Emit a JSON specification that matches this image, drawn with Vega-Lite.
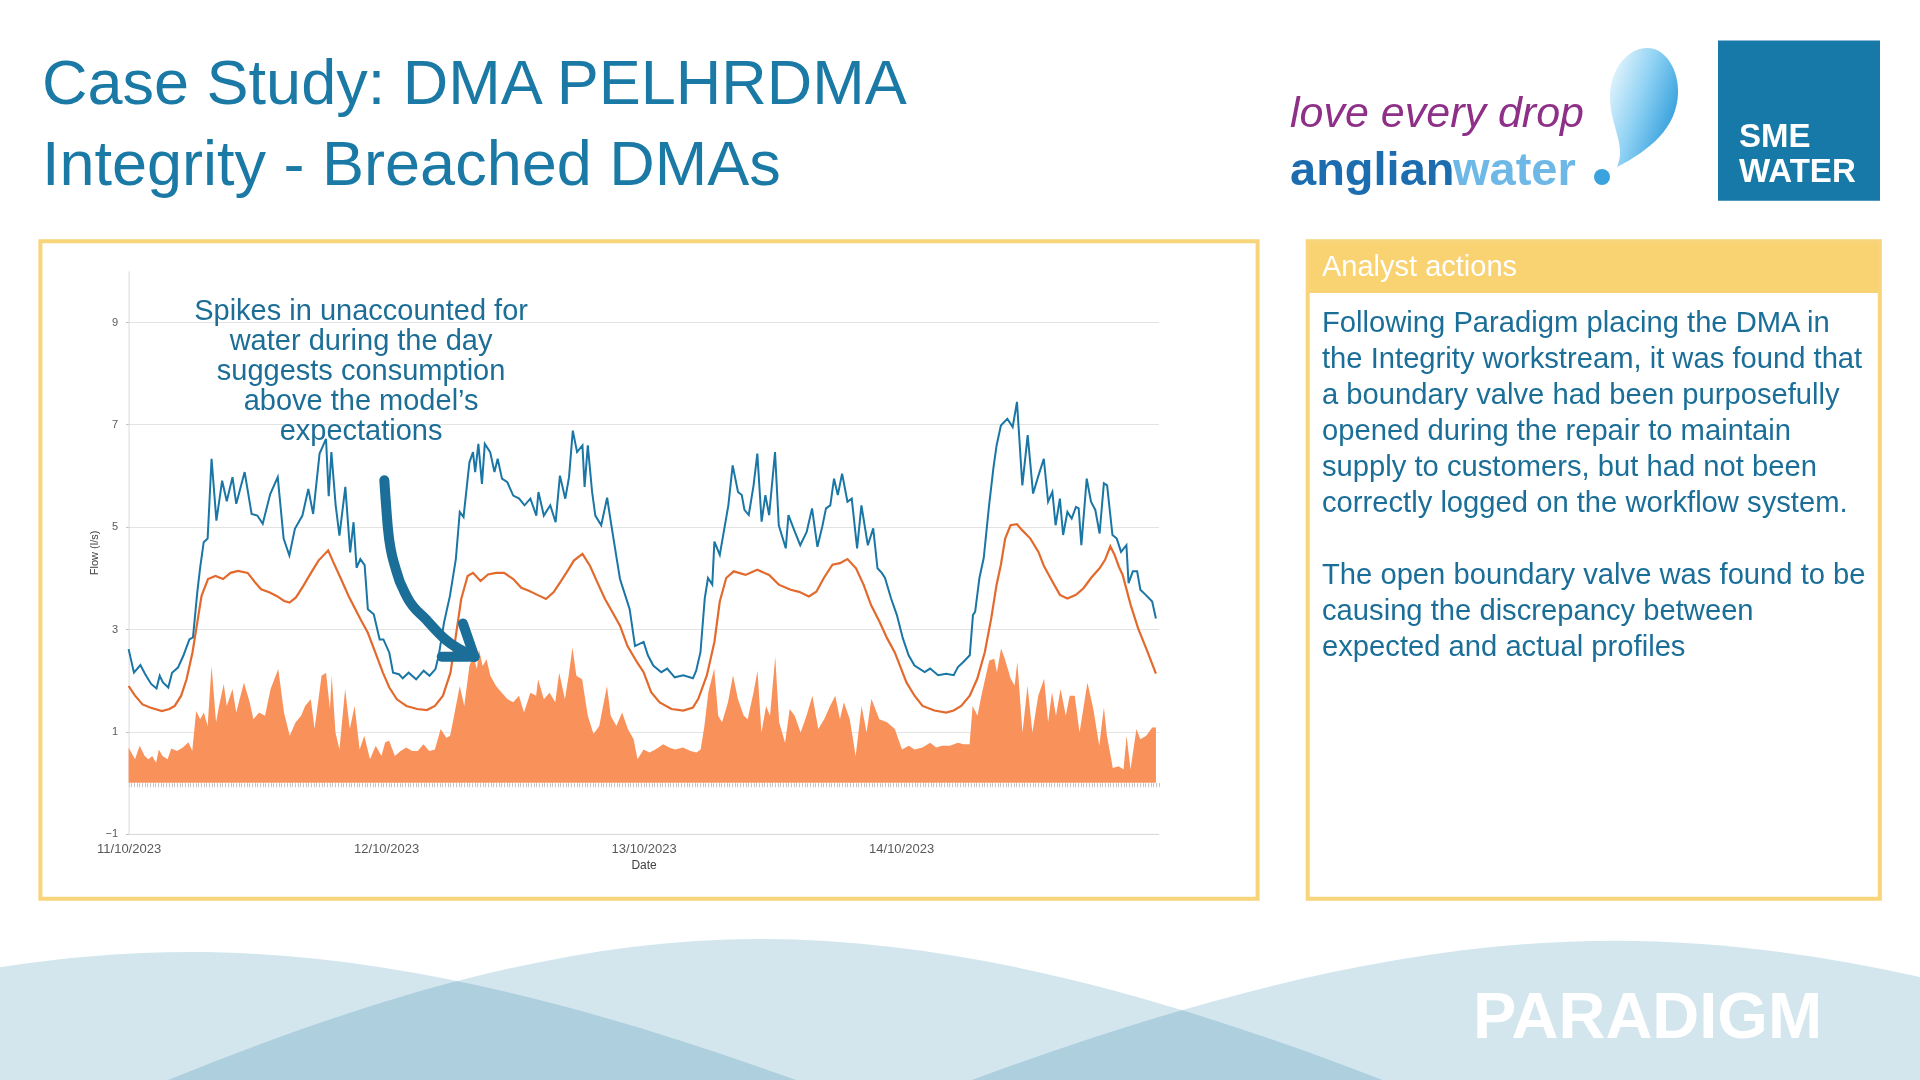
{
  "$schema": "https://vega.github.io/schema/vega-lite/v6.json",
  "width": 1920,
  "height": 1080,
  "autosize": {"type": "none"},
  "padding": 0,
  "background": "#FFFFFF",
  "config": {"view": {"stroke": null}},
  "data": {"values": [{"item": "slide"}]},
  "resolve": {"axis": {"x": "independent"}},
  "layer": [
    {
      "mark": {"type": "point", "shape": "M -6.06 1.28 C -4.04 0.555 -2.02 0 0 0 C 2.02 0 4.04 0.555 6.06 1.28 L 6.06 1.6 L -6.06 1.6 Z", "size": 40000, "filled": true, "fill": "#D3E6EE", "opacity": 1, "strokeWidth": 0, "blend": "multiply"},
      "encoding": {"x": {"value": 190}, "y": {"value": 952}}
    },
    {
      "mark": {"type": "point", "shape": "M -5.91 1.41 C -3.94 0.611 -1.97 0 0 0 C 2.078 0 4.157 0.611 6.235 1.41 L 6.235 1.6 L -5.91 1.6 Z", "size": 40000, "filled": true, "fill": "#D3E6EE", "opacity": 1, "strokeWidth": 0, "blend": "multiply"},
      "encoding": {"x": {"value": 759}, "y": {"value": 939}}
    },
    {
      "mark": {"type": "point", "shape": "M -6.43 1.393 C -4.287 0.604 -2.143 0 0 0 C 2.143 0 4.287 0.604 6.43 1.393 L 6.43 1.6 L -6.43 1.6 Z", "size": 40000, "filled": true, "fill": "#D3E6EE", "opacity": 1, "strokeWidth": 0, "blend": "multiply"},
      "encoding": {"x": {"value": 1615}, "y": {"value": 940.7}}
    },
    {
      "mark": {"type": "text", "text": "PARADIGM", "font": "Liberation Sans", "fontWeight": "bold", "fontSize": 65, "color": "#FFFFFF", "align": "left", "baseline": "alphabetic"},
      "encoding": {"x": {"value": 1473}, "y": {"value": 1038}}
    },
    {
      "mark": {"type": "rect", "fillOpacity": 0, "stroke": "#F8D47A", "strokeWidth": 4},
      "encoding": {"x": {"value": 40.4}, "x2": {"value": 1257.6}, "y": {"value": 241.2}, "y2": {"value": 898.8}}
    },
    {
      "mark": {"type": "rect", "fill": "#F9D272", "strokeWidth": 0},
      "encoding": {"x": {"value": 1307.7}, "x2": {"value": 1879.8}, "y": {"value": 241.2}, "y2": {"value": 293}}
    },
    {
      "mark": {"type": "rect", "fillOpacity": 0, "stroke": "#F8D47A", "strokeWidth": 4},
      "encoding": {"x": {"value": 1307.7}, "x2": {"value": 1879.8}, "y": {"value": 241.2}, "y2": {"value": 898.8}}
    },
    {
      "data": {"values": [
        {"t":"2023-10-11T00:00","v":0.69},{"t":"2023-10-11T00:15","v":0.59},{"t":"2023-10-11T00:36","v":0.46},{"t":"2023-10-11T01:02","v":0.72},{"t":"2023-10-11T01:30","v":0.52},{"t":"2023-10-11T01:51","v":0.46},{"t":"2023-10-11T02:12","v":0.52},{"t":"2023-10-11T02:34","v":0.39},{"t":"2023-10-11T02:49","v":0.65},{"t":"2023-10-11T03:10","v":0.52},{"t":"2023-10-11T03:38","v":0.46},{"t":"2023-10-11T03:59","v":0.67},{"t":"2023-10-11T04:31","v":0.62},{"t":"2023-10-11T05:03","v":0.69},{"t":"2023-10-11T05:35","v":0.79},{"t":"2023-10-11T05:56","v":0.62},
        {"t":"2023-10-11T06:18","v":1.40},{"t":"2023-10-11T06:40","v":1.24},{"t":"2023-10-11T07:01","v":1.37},{"t":"2023-10-11T07:22","v":1.11},{"t":"2023-10-11T07:44","v":2.28},{"t":"2023-10-11T08:09","v":1.18},{"t":"2023-10-11T08:26","v":1.50},{"t":"2023-10-11T08:52","v":1.93},{"t":"2023-10-11T09:09","v":1.50},{"t":"2023-10-11T09:41","v":1.83},{"t":"2023-10-11T10:02","v":1.37},{"t":"2023-10-11T10:45","v":1.96},{"t":"2023-10-11T11:17","v":1.57},{"t":"2023-10-11T11:38","v":1.24},{"t":"2023-10-11T12:10","v":1.37},{"t":"2023-10-11T12:43","v":1.31},{"t":"2023-10-11T13:14","v":1.83},{"t":"2023-10-11T13:57","v":2.22},{"t":"2023-10-11T14:29","v":1.37},{"t":"2023-10-11T15:01","v":0.92},{"t":"2023-10-11T15:34","v":1.18},{"t":"2023-10-11T16:05","v":1.31},{"t":"2023-10-11T16:27","v":1.50},{"t":"2023-10-11T16:59","v":1.63},{"t":"2023-10-11T17:20","v":1.05},{"t":"2023-10-11T17:59","v":2.09},{"t":"2023-10-11T18:24","v":2.15},{"t":"2023-10-11T18:46","v":1.44},{"t":"2023-10-11T18:56","v":2.09},{"t":"2023-10-11T19:17","v":0.98},{"t":"2023-10-11T19:39","v":0.65},{"t":"2023-10-11T20:11","v":1.83},{"t":"2023-10-11T20:37","v":1.05},{"t":"2023-10-11T21:04","v":1.50},{"t":"2023-10-11T21:32","v":0.65},{"t":"2023-10-11T21:58","v":0.92},{"t":"2023-10-11T22:30","v":0.46},{"t":"2023-10-11T23:02","v":0.72},{"t":"2023-10-11T23:34","v":0.52},{"t":"2023-10-11T23:55","v":0.79},
        {"t":"2023-10-12T00:17","v":0.82},{"t":"2023-10-12T00:49","v":0.52},{"t":"2023-10-12T01:21","v":0.62},{"t":"2023-10-12T01:53","v":0.69},{"t":"2023-10-12T02:25","v":0.62},{"t":"2023-10-12T02:57","v":0.62},{"t":"2023-10-12T03:29","v":0.75},{"t":"2023-10-12T04:01","v":0.62},{"t":"2023-10-12T04:33","v":0.65},{"t":"2023-10-12T05:05","v":1.05},{"t":"2023-10-12T05:37","v":0.88},{"t":"2023-10-12T05:58","v":0.92},{"t":"2023-10-12T06:20","v":1.31},{"t":"2023-10-12T06:52","v":1.89},{"t":"2023-10-12T07:17","v":1.50},{"t":"2023-10-12T07:46","v":2.28},{"t":"2023-10-12T08:07","v":2.48},{"t":"2023-10-12T08:28","v":2.22},{"t":"2023-10-12T08:39","v":2.61},{"t":"2023-10-12T09:00","v":2.28},{"t":"2023-10-12T09:22","v":2.41},{"t":"2023-10-12T09:43","v":2.09},{"t":"2023-10-12T10:15","v":1.89},{"t":"2023-10-12T10:47","v":1.76},{"t":"2023-10-12T11:19","v":1.63},{"t":"2023-10-12T11:51","v":1.57},{"t":"2023-10-12T12:23","v":1.70},{"t":"2023-10-12T12:51","v":1.37},{"t":"2023-10-12T13:27","v":1.76},{"t":"2023-10-12T13:59","v":1.70},{"t":"2023-10-12T14:10","v":2.02},{"t":"2023-10-12T14:42","v":1.63},{"t":"2023-10-12T15:14","v":1.76},{"t":"2023-10-12T15:46","v":1.57},{"t":"2023-10-12T16:08","v":2.15},{"t":"2023-10-12T16:40","v":1.63},{"t":"2023-10-12T17:01","v":2.09},{"t":"2023-10-12T17:22","v":2.64},{"t":"2023-10-12T17:44","v":2.09},{"t":"2023-10-12T18:16","v":2.02},{"t":"2023-10-12T18:48","v":1.31},{"t":"2023-10-12T19:20","v":0.95},{"t":"2023-10-12T19:52","v":1.11},{"t":"2023-10-12T20:35","v":1.89},{"t":"2023-10-12T20:56","v":1.31},{"t":"2023-10-12T21:28","v":1.11},{"t":"2023-10-12T22:00","v":1.37},{"t":"2023-10-12T22:32","v":1.05},{"t":"2023-10-12T23:04","v":0.85},{"t":"2023-10-12T23:26","v":0.46},
        {"t":"2023-10-13T00:00","v":0.65},{"t":"2023-10-13T00:33","v":0.59},{"t":"2023-10-13T01:06","v":0.65},{"t":"2023-10-13T01:50","v":0.75},{"t":"2023-10-13T02:23","v":0.69},{"t":"2023-10-13T02:56","v":0.65},{"t":"2023-10-13T03:40","v":0.69},{"t":"2023-10-13T04:23","v":0.62},{"t":"2023-10-13T04:56","v":0.59},{"t":"2023-10-13T05:19","v":0.65},{"t":"2023-10-13T05:40","v":1.11},{"t":"2023-10-13T06:02","v":1.77},{"t":"2023-10-13T06:35","v":2.23},{"t":"2023-10-13T06:57","v":1.31},{"t":"2023-10-13T07:19","v":1.18},{"t":"2023-10-13T07:52","v":1.57},{"t":"2023-10-13T08:20","v":2.10},{"t":"2023-10-13T08:47","v":1.64},{"t":"2023-10-13T09:20","v":1.31},{"t":"2023-10-13T09:42","v":1.24},{"t":"2023-10-13T10:15","v":1.77},{"t":"2023-10-13T10:37","v":2.19},{"t":"2023-10-13T10:59","v":0.98},{"t":"2023-10-13T11:25","v":1.50},{"t":"2023-10-13T11:47","v":1.31},{"t":"2023-10-13T12:16","v":2.46},{"t":"2023-10-13T12:38","v":1.18},{"t":"2023-10-13T13:11","v":0.78},{"t":"2023-10-13T13:37","v":1.44},{"t":"2023-10-13T14:05","v":1.31},{"t":"2023-10-13T14:38","v":0.98},{"t":"2023-10-13T15:11","v":1.31},{"t":"2023-10-13T15:44","v":1.70},{"t":"2023-10-13T16:17","v":1.05},{"t":"2023-10-13T16:50","v":1.24},{"t":"2023-10-13T17:23","v":1.50},{"t":"2023-10-13T17:52","v":1.70},{"t":"2023-10-13T18:18","v":1.24},{"t":"2023-10-13T18:40","v":1.57},{"t":"2023-10-13T19:13","v":1.24},{"t":"2023-10-13T19:46","v":0.52},{"t":"2023-10-13T20:19","v":1.50},{"t":"2023-10-13T20:47","v":0.98},{"t":"2023-10-13T21:14","v":1.64},{"t":"2023-10-13T21:58","v":1.24},{"t":"2023-10-13T22:41","v":1.18},{"t":"2023-10-13T23:25","v":1.05},
        {"t":"2023-10-14T00:05","v":0.65},{"t":"2023-10-14T00:43","v":0.72},{"t":"2023-10-14T01:15","v":0.65},{"t":"2023-10-14T01:59","v":0.69},{"t":"2023-10-14T02:43","v":0.78},{"t":"2023-10-14T03:16","v":0.69},{"t":"2023-10-14T03:49","v":0.72},{"t":"2023-10-14T04:33","v":0.72},{"t":"2023-10-14T05:17","v":0.78},{"t":"2023-10-14T05:50","v":0.75},{"t":"2023-10-14T06:23","v":0.75},{"t":"2023-10-14T06:40","v":1.50},{"t":"2023-10-14T07:07","v":1.31},{"t":"2023-10-14T07:33","v":1.77},{"t":"2023-10-14T08:13","v":2.39},{"t":"2023-10-14T08:41","v":2.42},{"t":"2023-10-14T08:56","v":2.16},{"t":"2023-10-14T09:19","v":2.62},{"t":"2023-10-14T09:40","v":2.42},{"t":"2023-10-14T10:13","v":2.03},{"t":"2023-10-14T10:35","v":1.90},{"t":"2023-10-14T10:50","v":2.36},{"t":"2023-10-14T11:19","v":0.98},{"t":"2023-10-14T11:47","v":1.90},{"t":"2023-10-14T12:14","v":0.98},{"t":"2023-10-14T12:47","v":1.70},{"t":"2023-10-14T13:20","v":2.03},{"t":"2023-10-14T13:42","v":1.18},{"t":"2023-10-14T14:04","v":1.77},{"t":"2023-10-14T14:26","v":1.31},{"t":"2023-10-14T14:52","v":1.83},{"t":"2023-10-14T15:21","v":1.31},{"t":"2023-10-14T15:43","v":1.70},{"t":"2023-10-14T16:11","v":1.70},{"t":"2023-10-14T16:38","v":0.98},{"t":"2023-10-14T17:22","v":1.96},{"t":"2023-10-14T17:55","v":1.44},{"t":"2023-10-14T18:28","v":0.72},{"t":"2023-10-14T18:54","v":1.47},{"t":"2023-10-14T19:11","v":0.92},{"t":"2023-10-14T19:44","v":0.29},{"t":"2023-10-14T20:17","v":0.32},{"t":"2023-10-14T20:44","v":0.26},{"t":"2023-10-14T21:01","v":0.92},{"t":"2023-10-14T21:23","v":0.26},{"t":"2023-10-14T21:56","v":1.05},{"t":"2023-10-14T22:18","v":0.85},{"t":"2023-10-14T22:51","v":0.92},{"t":"2023-10-14T23:24","v":1.08},{"t":"2023-10-14T23:45","v":1.08}
      ]},
      "mark": {"type": "area", "color": "#F9915A", "opacity": 1},
      "encoding": {
        "x": {"field": "t", "type": "temporal",
          "scale": {"domain": [{"year": 2023, "month": 10, "date": 11}, {"year": 2023, "month": 10, "date": 15}], "range": [128.6, 1158.6], "nice": false},
          "axis": {"orient": "bottom", "offset": -246.1, "values": [{"year": 2023, "month": 10, "date": 11}, {"year": 2023, "month": 10, "date": 12}, {"year": 2023, "month": 10, "date": 13}, {"year": 2023, "month": 10, "date": 14}], "format": "%d/%m/%Y", "grid": false, "ticks": false, "tickSize": 0, "domain": true, "domainColor": "#D9D9D9", "labelFont": "Liberation Sans", "labelFontSize": 13, "labelColor": "#595959", "labelPadding": 9, "labelFlush": false, "labelOverlap": false, "title": "Date", "titleFont": "Liberation Sans", "titleFontSize": 12, "titleFontWeight": "normal", "titleColor": "#404040", "titlePadding": 4}},
        "y": {"field": "v", "type": "quantitative",
          "scale": {"domain": [-1, 10], "range": [833.9, 270.9], "nice": false, "zero": false},
          "axis": {"orient": "left", "offset": -128.6, "values": [-1, 1, 3, 5, 7, 9], "format": "d", "grid": true, "gridColor": "#E3E3E3", "gridWidth": 1, "domain": true, "domainColor": "#D9D9D9", "ticks": true, "tickSize": 3, "tickColor": "#BFBFBF", "labelFont": "Liberation Sans", "labelFontSize": 11, "labelColor": "#595959", "labelPadding": 8, "title": "Flow (l/s)", "titleFont": "Liberation Sans", "titleFontSize": 11, "titleFontWeight": "normal", "titleColor": "#404040", "titlePadding": 6}},
        "y2": {"datum": 0}
      }
    },
    {
      "data": {"values": [
        {"t":"2023-10-11T00:00","v":1.89},{"t":"2023-10-11T00:36","v":1.70},{"t":"2023-10-11T01:18","v":1.53},{"t":"2023-10-11T02:00","v":1.47},{"t":"2023-10-11T03:06","v":1.40},{"t":"2023-10-11T03:48","v":1.44},{"t":"2023-10-11T04:18","v":1.50},{"t":"2023-10-11T04:54","v":1.70},{"t":"2023-10-11T05:24","v":2.02},{"t":"2023-10-11T05:57","v":2.54},{"t":"2023-10-11T06:24","v":3.13},{"t":"2023-10-11T06:48","v":3.65},{"t":"2023-10-11T07:24","v":3.98},{"t":"2023-10-11T08:06","v":4.04},{"t":"2023-10-11T08:48","v":3.98},{"t":"2023-10-11T09:30","v":4.10},{"t":"2023-10-11T10:12","v":4.14},{"t":"2023-10-11T11:06","v":4.10},{"t":"2023-10-11T11:48","v":3.91},{"t":"2023-10-11T12:21","v":3.78},{"t":"2023-10-11T13:06","v":3.72},{"t":"2023-10-11T13:48","v":3.65},{"t":"2023-10-11T14:30","v":3.55},{"t":"2023-10-11T15:00","v":3.52},{"t":"2023-10-11T15:36","v":3.62},{"t":"2023-10-11T16:18","v":3.85},{"t":"2023-10-11T17:00","v":4.10},{"t":"2023-10-11T17:42","v":4.34},{"t":"2023-10-11T18:36","v":4.54},{"t":"2023-10-11T19:06","v":4.30},{"t":"2023-10-11T19:48","v":3.98},{"t":"2023-10-11T20:30","v":3.65},{"t":"2023-10-11T21:36","v":3.20},{"t":"2023-10-11T22:18","v":2.93},{"t":"2023-10-11T23:00","v":2.54},{"t":"2023-10-11T23:42","v":2.15},
        {"t":"2023-10-12T00:18","v":1.86},{"t":"2023-10-12T01:00","v":1.63},{"t":"2023-10-12T01:54","v":1.50},{"t":"2023-10-12T02:54","v":1.44},{"t":"2023-10-12T03:48","v":1.42},{"t":"2023-10-12T04:33","v":1.50},{"t":"2023-10-12T05:18","v":1.70},{"t":"2023-10-12T06:00","v":2.15},{"t":"2023-10-12T06:30","v":2.87},{"t":"2023-10-12T07:00","v":3.59},{"t":"2023-10-12T07:36","v":4.04},{"t":"2023-10-12T08:06","v":4.10},{"t":"2023-10-12T08:48","v":3.94},{"t":"2023-10-12T09:30","v":4.07},{"t":"2023-10-12T10:15","v":4.10},{"t":"2023-10-12T11:00","v":4.10},{"t":"2023-10-12T11:51","v":3.98},{"t":"2023-10-12T12:36","v":3.81},{"t":"2023-10-12T13:18","v":3.75},{"t":"2023-10-12T14:00","v":3.68},{"t":"2023-10-12T14:54","v":3.59},{"t":"2023-10-12T15:36","v":3.72},{"t":"2023-10-12T16:18","v":3.94},{"t":"2023-10-12T17:00","v":4.17},{"t":"2023-10-12T17:30","v":4.34},{"t":"2023-10-12T18:18","v":4.47},{"t":"2023-10-12T19:00","v":4.24},{"t":"2023-10-12T19:42","v":3.91},{"t":"2023-10-12T20:24","v":3.59},{"t":"2023-10-12T21:06","v":3.33},{"t":"2023-10-12T21:48","v":3.07},{"t":"2023-10-12T22:30","v":2.67},{"t":"2023-10-12T23:24","v":2.35},
        {"t":"2023-10-13T00:00","v":2.16},{"t":"2023-10-13T00:42","v":1.77},{"t":"2023-10-13T01:30","v":1.57},{"t":"2023-10-13T02:36","v":1.44},{"t":"2023-10-13T03:42","v":1.41},{"t":"2023-10-13T04:36","v":1.47},{"t":"2023-10-13T05:06","v":1.64},{"t":"2023-10-13T05:54","v":2.10},{"t":"2023-10-13T06:36","v":2.75},{"t":"2023-10-13T07:06","v":3.54},{"t":"2023-10-13T07:42","v":4.00},{"t":"2023-10-13T08:24","v":4.13},{"t":"2023-10-13T09:30","v":4.06},{"t":"2023-10-13T10:36","v":4.16},{"t":"2023-10-13T11:42","v":4.06},{"t":"2023-10-13T12:36","v":3.87},{"t":"2023-10-13T13:42","v":3.77},{"t":"2023-10-13T14:30","v":3.73},{"t":"2023-10-13T15:24","v":3.64},{"t":"2023-10-13T16:06","v":3.73},{"t":"2023-10-13T16:48","v":4.00},{"t":"2023-10-13T17:36","v":4.26},{"t":"2023-10-13T18:18","v":4.29},{"t":"2023-10-13T19:00","v":4.37},{"t":"2023-10-13T19:48","v":4.19},{"t":"2023-10-13T20:30","v":3.87},{"t":"2023-10-13T21:12","v":3.47},{"t":"2023-10-13T22:00","v":3.14},{"t":"2023-10-13T22:42","v":2.82},{"t":"2023-10-13T23:24","v":2.55},
        {"t":"2023-10-14T00:00","v":2.23},{"t":"2023-10-14T00:30","v":1.96},{"t":"2023-10-14T01:15","v":1.70},{"t":"2023-10-14T02:00","v":1.50},{"t":"2023-10-14T03:06","v":1.41},{"t":"2023-10-14T04:12","v":1.37},{"t":"2023-10-14T04:54","v":1.41},{"t":"2023-10-14T05:36","v":1.50},{"t":"2023-10-14T06:24","v":1.70},{"t":"2023-10-14T07:06","v":2.03},{"t":"2023-10-14T07:48","v":2.55},{"t":"2023-10-14T08:24","v":3.21},{"t":"2023-10-14T08:54","v":3.87},{"t":"2023-10-14T09:18","v":4.26},{"t":"2023-10-14T09:42","v":4.77},{"t":"2023-10-14T10:12","v":5.03},{"t":"2023-10-14T10:48","v":5.05},{"t":"2023-10-14T11:18","v":4.93},{"t":"2023-10-14T12:03","v":4.77},{"t":"2023-10-14T12:48","v":4.51},{"t":"2023-10-14T13:18","v":4.24},{"t":"2023-10-14T14:06","v":3.93},{"t":"2023-10-14T14:48","v":3.67},{"t":"2023-10-14T15:30","v":3.60},{"t":"2023-10-14T16:18","v":3.67},{"t":"2023-10-14T17:00","v":3.80},{"t":"2023-10-14T17:42","v":4.00},{"t":"2023-10-14T18:30","v":4.19},{"t":"2023-10-14T19:00","v":4.35},{"t":"2023-10-14T19:30","v":4.62},{"t":"2023-10-14T19:54","v":4.45},{"t":"2023-10-14T20:18","v":4.22},{"t":"2023-10-14T20:39","v":4.06},{"t":"2023-10-14T21:24","v":3.47},{"t":"2023-10-14T22:06","v":3.01},{"t":"2023-10-14T22:51","v":2.62},{"t":"2023-10-14T23:45","v":2.13}
      ]},
      "mark": {"type": "line", "color": "#E36A2D", "strokeWidth": 2.2},
      "encoding": {
        "x": {"field": "t", "type": "temporal",
          "axis": {"orient": "bottom", "offset": -297.3, "tickCount": 384, "labels": false, "title": null, "grid": false, "domain": false, "ticks": true, "tickSize": 4, "tickColor": "#C4C4C4", "tickWidth": 1}},
        "y": {"field": "v", "type": "quantitative"}
      }
    },
    {
      "data": {"values": [
        {"t":"2023-10-11T00:00","v":2.61},{"t":"2023-10-11T00:30","v":2.15},{"t":"2023-10-11T01:06","v":2.30},{"t":"2023-10-11T01:33","v":2.12},{"t":"2023-10-11T02:06","v":1.93},{"t":"2023-10-11T02:36","v":1.84},{"t":"2023-10-11T02:54","v":2.09},{"t":"2023-10-11T03:12","v":1.96},{"t":"2023-10-11T03:42","v":1.86},{"t":"2023-10-11T04:03","v":2.15},{"t":"2023-10-11T04:36","v":2.25},{"t":"2023-10-11T05:06","v":2.48},{"t":"2023-10-11T05:40","v":2.80},{"t":"2023-10-11T06:00","v":2.84},{"t":"2023-10-11T06:24","v":3.72},{"t":"2023-10-11T06:40","v":4.20},{"t":"2023-10-11T07:00","v":4.70},{"t":"2023-10-11T07:22","v":4.77},{"t":"2023-10-11T07:44","v":6.33},{"t":"2023-10-11T08:11","v":5.12},{"t":"2023-10-11T08:43","v":5.90},{"t":"2023-10-11T09:09","v":5.50},{"t":"2023-10-11T09:41","v":5.97},{"t":"2023-10-11T10:02","v":5.45},{"t":"2023-10-11T10:49","v":6.07},{"t":"2023-10-11T11:28","v":5.25},{"t":"2023-10-11T12:00","v":5.22},{"t":"2023-10-11T12:30","v":5.06},{"t":"2023-10-11T13:12","v":5.64},{"t":"2023-10-11T13:54","v":5.97},{"t":"2023-10-11T14:27","v":4.77},{"t":"2023-10-11T14:59","v":4.44},{"t":"2023-10-11T15:30","v":4.96},{"t":"2023-10-11T16:12","v":5.22},{"t":"2023-10-11T16:45","v":5.74},{"t":"2023-10-11T17:12","v":5.25},{"t":"2023-10-11T17:48","v":6.43},{"t":"2023-10-11T18:24","v":6.72},{"t":"2023-10-11T18:39","v":5.60},{"t":"2023-10-11T18:54","v":6.46},{"t":"2023-10-11T19:18","v":5.42},{"t":"2023-10-11T19:39","v":4.83},{"t":"2023-10-11T20:12","v":5.78},{"t":"2023-10-11T20:39","v":4.50},{"t":"2023-10-11T20:58","v":5.09},{"t":"2023-10-11T21:15","v":4.20},{"t":"2023-10-11T21:36","v":4.37},{"t":"2023-10-11T22:00","v":4.25},{"t":"2023-10-11T22:18","v":3.39},{"t":"2023-10-11T22:51","v":3.29},{"t":"2023-10-11T23:24","v":2.80},{"t":"2023-10-11T23:45","v":2.80},
        {"t":"2023-10-12T00:18","v":2.54},{"t":"2023-10-12T00:39","v":2.15},{"t":"2023-10-12T01:12","v":2.12},{"t":"2023-10-12T01:33","v":2.04},{"t":"2023-10-12T02:06","v":2.15},{"t":"2023-10-12T02:48","v":2.02},{"t":"2023-10-12T03:30","v":2.19},{"t":"2023-10-12T04:03","v":2.09},{"t":"2023-10-12T04:36","v":2.22},{"t":"2023-10-12T04:54","v":2.48},{"t":"2023-10-12T05:24","v":3.13},{"t":"2023-10-12T05:57","v":3.65},{"t":"2023-10-12T06:30","v":4.37},{"t":"2023-10-12T06:52","v":5.29},{"t":"2023-10-12T07:13","v":5.19},{"t":"2023-10-12T07:46","v":6.26},{"t":"2023-10-12T08:06","v":6.46},{"t":"2023-10-12T08:18","v":6.07},{"t":"2023-10-12T08:36","v":6.62},{"t":"2023-10-12T08:56","v":5.84},{"t":"2023-10-12T09:12","v":6.62},{"t":"2023-10-12T09:42","v":6.46},{"t":"2023-10-12T10:06","v":6.07},{"t":"2023-10-12T10:24","v":6.33},{"t":"2023-10-12T10:48","v":5.94},{"t":"2023-10-12T11:18","v":5.87},{"t":"2023-10-12T11:51","v":5.61},{"t":"2023-10-12T12:24","v":5.55},{"t":"2023-10-12T12:54","v":5.42},{"t":"2023-10-12T13:27","v":5.55},{"t":"2023-10-12T14:00","v":5.22},{"t":"2023-10-12T14:12","v":5.68},{"t":"2023-10-12T14:42","v":5.22},{"t":"2023-10-12T15:18","v":5.42},{"t":"2023-10-12T15:48","v":5.09},{"t":"2023-10-12T16:12","v":6.00},{"t":"2023-10-12T16:42","v":5.55},{"t":"2023-10-12T17:03","v":5.97},{"t":"2023-10-12T17:24","v":6.88},{"t":"2023-10-12T17:48","v":6.46},{"t":"2023-10-12T18:18","v":6.59},{"t":"2023-10-12T18:30","v":5.78},{"t":"2023-10-12T18:48","v":6.59},{"t":"2023-10-12T19:12","v":5.68},{"t":"2023-10-12T19:30","v":5.22},{"t":"2023-10-12T20:03","v":5.03},{"t":"2023-10-12T20:36","v":5.57},{"t":"2023-10-12T20:57","v":5.09},{"t":"2023-10-12T21:30","v":4.37},{"t":"2023-10-12T21:48","v":3.98},{"t":"2023-10-12T22:12","v":3.72},{"t":"2023-10-12T22:42","v":3.39},{"t":"2023-10-12T23:12","v":2.67},
        {"t":"2023-10-13T00:00","v":2.75},{"t":"2023-10-13T00:24","v":2.49},{"t":"2023-10-13T00:54","v":2.29},{"t":"2023-10-13T01:39","v":2.16},{"t":"2023-10-13T02:12","v":2.23},{"t":"2023-10-13T02:54","v":2.06},{"t":"2023-10-13T03:42","v":2.10},{"t":"2023-10-13T04:36","v":2.04},{"t":"2023-10-13T04:54","v":2.19},{"t":"2023-10-13T05:18","v":2.55},{"t":"2023-10-13T05:42","v":3.60},{"t":"2023-10-13T06:00","v":4.00},{"t":"2023-10-13T06:24","v":3.87},{"t":"2023-10-13T06:36","v":4.71},{"t":"2023-10-13T07:06","v":4.45},{"t":"2023-10-13T07:54","v":5.42},{"t":"2023-10-13T08:18","v":6.20},{"t":"2023-10-13T08:48","v":5.68},{"t":"2023-10-13T09:09","v":5.62},{"t":"2023-10-13T09:24","v":5.33},{"t":"2023-10-13T09:48","v":5.23},{"t":"2023-10-13T10:15","v":5.81},{"t":"2023-10-13T10:36","v":6.43},{"t":"2023-10-13T11:00","v":5.10},{"t":"2023-10-13T11:21","v":5.62},{"t":"2023-10-13T11:42","v":5.23},{"t":"2023-10-13T12:15","v":6.46},{"t":"2023-10-13T12:36","v":5.03},{"t":"2023-10-13T13:15","v":4.58},{"t":"2023-10-13T13:30","v":5.23},{"t":"2023-10-13T14:06","v":4.90},{"t":"2023-10-13T14:36","v":4.64},{"t":"2023-10-13T15:12","v":4.90},{"t":"2023-10-13T15:42","v":5.36},{"t":"2023-10-13T16:12","v":4.61},{"t":"2023-10-13T16:39","v":5.00},{"t":"2023-10-13T17:00","v":5.36},{"t":"2023-10-13T17:24","v":5.42},{"t":"2023-10-13T17:45","v":5.94},{"t":"2023-10-13T18:06","v":5.62},{"t":"2023-10-13T18:30","v":6.04},{"t":"2023-10-13T19:00","v":5.49},{"t":"2023-10-13T19:24","v":5.55},{"t":"2023-10-13T19:54","v":4.58},{"t":"2023-10-13T20:18","v":5.42},{"t":"2023-10-13T20:54","v":4.64},{"t":"2023-10-13T21:24","v":4.97},{"t":"2023-10-13T21:48","v":4.19},{"t":"2023-10-13T22:12","v":4.10},{"t":"2023-10-13T22:30","v":4.00},{"t":"2023-10-13T23:04","v":3.60},{"t":"2023-10-13T23:36","v":3.28},
        {"t":"2023-10-14T00:10","v":2.82},{"t":"2023-10-14T00:42","v":2.49},{"t":"2023-10-14T01:15","v":2.29},{"t":"2023-10-14T02:12","v":2.16},{"t":"2023-10-14T02:42","v":2.23},{"t":"2023-10-14T03:27","v":2.10},{"t":"2023-10-14T04:12","v":2.13},{"t":"2023-10-14T04:54","v":2.10},{"t":"2023-10-14T05:18","v":2.26},{"t":"2023-10-14T05:48","v":2.36},{"t":"2023-10-14T06:24","v":2.49},{"t":"2023-10-14T06:42","v":3.28},{"t":"2023-10-14T06:54","v":3.34},{"t":"2023-10-14T07:18","v":4.00},{"t":"2023-10-14T07:42","v":4.39},{"t":"2023-10-14T08:12","v":5.42},{"t":"2023-10-14T08:36","v":6.14},{"t":"2023-10-14T08:54","v":6.59},{"t":"2023-10-14T09:18","v":6.98},{"t":"2023-10-14T09:54","v":7.11},{"t":"2023-10-14T10:24","v":6.95},{"t":"2023-10-14T10:48","v":7.44},{"t":"2023-10-14T11:18","v":5.81},{"t":"2023-10-14T11:48","v":6.79},{"t":"2023-10-14T12:18","v":5.65},{"t":"2023-10-14T12:48","v":6.00},{"t":"2023-10-14T13:18","v":6.33},{"t":"2023-10-14T13:42","v":5.49},{"t":"2023-10-14T14:06","v":5.68},{"t":"2023-10-14T14:24","v":5.03},{"t":"2023-10-14T14:48","v":5.55},{"t":"2023-10-14T15:06","v":4.84},{"t":"2023-10-14T15:30","v":5.29},{"t":"2023-10-14T15:54","v":5.16},{"t":"2023-10-14T16:18","v":5.39},{"t":"2023-10-14T16:33","v":5.36},{"t":"2023-10-14T16:48","v":4.64},{"t":"2023-10-14T17:18","v":5.94},{"t":"2023-10-14T17:42","v":5.49},{"t":"2023-10-14T18:06","v":5.33},{"t":"2023-10-14T18:30","v":4.87},{"t":"2023-10-14T18:54","v":5.85},{"t":"2023-10-14T19:12","v":5.81},{"t":"2023-10-14T19:42","v":4.84},{"t":"2023-10-14T20:06","v":4.77},{"t":"2023-10-14T20:30","v":4.51},{"t":"2023-10-14T21:00","v":4.64},{"t":"2023-10-14T21:12","v":3.90},{"t":"2023-10-14T21:36","v":4.13},{"t":"2023-10-14T22:00","v":4.13},{"t":"2023-10-14T22:18","v":3.77},{"t":"2023-10-14T22:48","v":3.67},{"t":"2023-10-14T23:24","v":3.54},{"t":"2023-10-14T23:45","v":3.21}
      ]},
      "mark": {"type": "line", "color": "#1A76A5", "strokeWidth": 2},
      "encoding": {
        "x": {"field": "t", "type": "temporal", "axis": null},
        "y": {"field": "v", "type": "quantitative"}
      }
    },
    {
      "data": {"values": [
        {"part":"shaft","t":"2023-10-11T23:50","v":5.91},{"part":"shaft","t":"2023-10-12T00:11","v":4.94},{"part":"shaft","t":"2023-10-12T00:55","v":4.16},{"part":"shaft","t":"2023-10-12T01:57","v":3.63},{"part":"shaft","t":"2023-10-12T03:46","v":3.18},{"part":"shaft","t":"2023-10-12T05:34","v":2.79},{"part":"shaft","t":"2023-10-12T08:14","v":2.46},
        {"part":"barb up","t":"2023-10-12T07:10","v":3.11},{"part":"barb up","t":"2023-10-12T08:14","v":2.46},
        {"part":"barb left","t":"2023-10-12T05:11","v":2.46},{"part":"barb left","t":"2023-10-12T08:14","v":2.46}
      ]},
      "mark": {"type": "line", "color": "#1B6E98", "strokeWidth": 10, "strokeCap": "round", "strokeJoin": "round", "interpolate": "monotone"},
      "encoding": {
        "x": {"field": "t", "type": "temporal", "axis": null},
        "y": {"field": "v", "type": "quantitative"},
        "detail": {"field": "part"}
      }
    },
    {
      "data": {"values": [{"note": "Spikes in unaccounted for\nwater during the day\nsuggests  consumption\nabove the model’s\nexpectations", "t": "2023-10-11T21:40", "v": 9.04}]},
      "mark": {"type": "text", "lineBreak": "\n", "align": "center", "baseline": "alphabetic", "font": "Liberation Sans", "fontSize": 29, "lineHeight": 30, "color": "#1D6E97"},
      "encoding": {
        "x": {"field": "t", "type": "temporal", "axis": null},
        "y": {"field": "v", "type": "quantitative"},
        "text": {"field": "note"}
      }
    },
    {
      "mark": {"type": "text", "text": "Case Study: DMA PELHRDMA\nIntegrity - Breached DMAs", "lineBreak": "\n", "align": "left", "baseline": "alphabetic", "font": "Liberation Sans", "fontSize": 63, "lineHeight": 81, "color": "#1A7AA5"},
      "encoding": {"x": {"value": 42}, "y": {"value": 104}}
    },
    {
      "mark": {"type": "text", "text": "Analyst actions", "align": "left", "baseline": "alphabetic", "font": "Liberation Sans", "fontSize": 29, "color": "#FFFFFF"},
      "encoding": {"x": {"value": 1322}, "y": {"value": 276}}
    },
    {
      "mark": {"type": "text", "text": "Following Paradigm placing the DMA in\nthe Integrity workstream, it was found that\na boundary valve had been purposefully\nopened during the repair to maintain\nsupply to customers, but had not been\ncorrectly logged on the workflow system.", "lineBreak": "\n", "align": "left", "baseline": "alphabetic", "font": "Liberation Sans", "fontSize": 29.2, "lineHeight": 36, "color": "#1B6E97"},
      "encoding": {"x": {"value": 1322}, "y": {"value": 332}}
    },
    {
      "mark": {"type": "text", "text": "The open boundary valve was found to be\ncausing the discrepancy between\nexpected and actual profiles", "lineBreak": "\n", "align": "left", "baseline": "alphabetic", "font": "Liberation Sans", "fontSize": 29.2, "lineHeight": 36, "color": "#1B6E97"},
      "encoding": {"x": {"value": 1322}, "y": {"value": 584}}
    },
    {
      "mark": {"type": "text", "text": "love every drop", "align": "left", "baseline": "alphabetic", "font": "Liberation Sans", "fontStyle": "italic", "fontSize": 43, "color": "#8E2F88"},
      "encoding": {"x": {"value": 1290}, "y": {"value": 127}}
    },
    {
      "mark": {"type": "text", "text": "anglian", "align": "left", "baseline": "alphabetic", "font": "Liberation Sans", "fontWeight": "bold", "fontSize": 47, "color": "#1C6DAF"},
      "encoding": {"x": {"value": 1290}, "y": {"value": 185}}
    },
    {
      "mark": {"type": "text", "text": "water", "align": "left", "baseline": "alphabetic", "font": "Liberation Sans", "fontWeight": "bold", "fontSize": 47, "color": "#6DB8E6"},
      "encoding": {"x": {"value": 1453}, "y": {"value": 185}}
    },
    {
      "mark": {"type": "point", "shape": "M 0.2 -5.2 C 2.2 -5.2 3.4 -2.8 3.3 -0.7 C 3.2 2.8 0.5 5.0 -2.8 6.7 C -1.8 4.6 -3.5 2.6 -3.5 -0.3 C -3.5 -3.0 -1.8 -5.2 0.2 -5.2 Z", "size": 400, "filled": true, "opacity": 1, "strokeWidth": 0,
        "fill": {"gradient": "linear", "x1": 0, "y1": 0.2, "x2": 1, "y2": 0.8, "stops": [{"offset": 0, "color": "#E6F6FD"}, {"offset": 0.45, "color": "#8CD0F3"}, {"offset": 1, "color": "#1E93D6"}]}},
      "encoding": {"x": {"value": 1645}, "y": {"value": 100}}
    },
    {
      "mark": {"type": "point", "shape": "circle", "size": 256, "filled": true, "opacity": 1, "strokeWidth": 0, "fill": "#3AA3DD"},
      "encoding": {"x": {"value": 1602}, "y": {"value": 177}}
    },
    {
      "mark": {"type": "rect", "fill": "#1779A8", "strokeWidth": 0},
      "encoding": {"x": {"value": 1718}, "x2": {"value": 1880}, "y": {"value": 40.4}, "y2": {"value": 200.8}}
    },
    {
      "mark": {"type": "text", "text": "SME\nWATER", "lineBreak": "\n", "align": "left", "baseline": "alphabetic", "font": "Liberation Sans", "fontWeight": "bold", "fontSize": 33, "lineHeight": 35, "color": "#FFFFFF"},
      "encoding": {"x": {"value": 1739}, "y": {"value": 147}}
    }
  ]
}
